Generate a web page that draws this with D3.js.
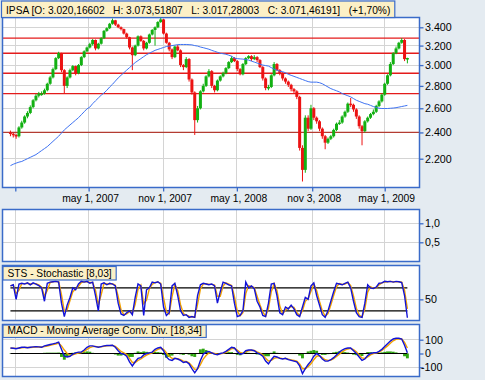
<!DOCTYPE html>
<html><head><meta charset="utf-8">
<script src="https://cdn.jsdelivr.net/npm/d3@7"></script>
<style>html,body{margin:0;padding:0;background:#e4ebf1;} svg{display:block;font-family:"Liberation Sans",Arial,sans-serif;}</style>
</head><body><svg id="c" width="485" height="380"></svg>
<script>
// ---------- data (weekly) ----------
const firstWeek = "2006-10-20";
const firstOpen = 2400;
const closes = [2390,2380,2370,2440,2480,2530,2560,2610,2670,2710,
2730,2730,2760,2820,2880,2960,3070,3120,2950,2800,
2880,2950,2990,2920,3000,3080,3140,3180,3215,3260,
3170,3220,3280,3360,3390,3440,3480,3430,3400,3380,
3330,3290,3180,3100,3200,3300,3250,3170,3230,3320,
3370,3400,3460,3490,3330,3230,3160,3080,3190,3150,
3000,2980,3060,2860,2740,2500,2600,2750,2800,2890,
2940,2800,2760,2850,2890,2920,2970,3030,3070,3040,
2960,2910,3010,3070,3090,3060,3080,3050,2980,2870,
2780,2790,2900,3010,2950,2920,2870,2840,2810,2770,
2750,2700,2280,2120,2520,2430,2600,2520,2490,2430,
2370,2320,2350,2370,2420,2470,2480,2530,2570,2640,
2630,2590,2530,2450,2410,2490,2520,2550,2570,2620,
2660,2720,2820,2900,3010,3120,3170,3230,3260,3060,
3071];
const highs = [2415,2400,2390,2450,2495,2540,2575,2625,2680,2725,
2745,2750,2775,2830,2895,2975,3080,3135,3125,2960,
2890,2965,3000,2995,3010,3090,3150,3190,3230,3270,
3265,3230,3290,3370,3400,3450,3500,3485,3440,3410,
3385,3340,3295,3190,3210,3310,3310,3260,3240,3330,
3380,3410,3470,3510,3495,3340,3240,3170,3200,3210,
3160,3010,3080,3070,2870,2750,2620,2760,2820,2900,
2960,2950,2810,2860,2900,2935,2980,3040,3090,3080,
3050,2970,3020,3080,3100,3100,3100,3090,3060,2990,
2880,2810,2910,3030,3020,2960,2930,2880,2850,2820,
2780,2760,2710,2300,2540,2540,2630,2610,2530,2500,
2440,2380,2360,2380,2430,2480,2500,2540,2580,2650,
2690,2640,2600,2540,2460,2500,2530,2560,2590,2630,
2670,2730,2830,2910,3030,3130,3190,3240,3280,3270,
3074];
const lows = [2370,2360,2350,2360,2430,2470,2515,2550,2600,2660,
2695,2710,2720,2750,2810,2870,2950,3060,2930,2730,
2780,2870,2940,2900,2910,2990,3070,3130,3170,3200,
3150,3160,3210,3270,3350,3380,3430,3415,3390,3365,
3320,3275,3160,2950,3090,3190,3240,3150,3160,3220,
3310,3200,3390,3450,3320,3220,3140,3060,3070,3140,
2980,2950,2970,2840,2720,2380,2480,2590,2740,2790,
2880,2780,2740,2750,2840,2880,2910,2960,3020,3030,
2940,2900,2900,3000,3060,3040,3050,3030,2970,2850,
2760,2760,2780,2890,2940,2900,2850,2820,2790,2750,
2730,2680,2260,2040,2100,2410,2420,2500,2470,2410,
2350,2270,2310,2340,2360,2410,2460,2470,2520,2560,
2610,2570,2510,2430,2300,2400,2480,2510,2540,2560,
2610,2650,2710,2810,2890,3000,3110,3160,3220,3040,
3017];
const movingAvg = [2150,2160,2168,2175,2180,2190,2200,2210,2220,2230,
2245,2260,2275,2290,2310,2330,2350,2370,2395,2420,
2440,2460,2480,2500,2520,2545,2570,2595,2610,2640,
2665,2690,2715,2735,2760,2790,2815,2845,2875,2900,
2925,2950,2975,3000,3025,3045,3065,3085,3105,3120,
3135,3150,3160,3170,3180,3190,3195,3200,3205,3210,
3212,3212,3212,3210,3208,3200,3195,3185,3178,3170,
3162,3150,3140,3130,3120,3115,3110,3100,3090,3070,
3065,3062,3060,3055,3050,3040,3030,3020,3010,3000,
2995,2990,2975,2960,2950,2940,2935,2925,2910,2900,
2890,2880,2870,2860,2850,2840,2835,2835,2835,2830,
2820,2805,2790,2775,2765,2755,2745,2730,2720,2710,
2700,2685,2670,2660,2650,2640,2635,2625,2615,2608,
2600,2598,2598,2598,2600,2602,2605,2610,2615,2620,
2625];
const levels = [3280, 3120, 2920, 2730, 2400];
const levelColors = ["#e41b1b","#e41b1b","#e41b1b","#e41b1b","#b43c32"];

const stochK = [85,88,50,90,92,90,93,88,93,90,
86,80,45,92,95,96,97,95,40,5,
35,55,80,75,90,97,95,97,92,95,
60,20,90,93,88,92,90,85,40,12,
8,15,20,10,55,90,85,8,75,80,
95,93,96,90,30,8,15,85,92,60,
20,8,10,3,5,3,60,88,92,90,
88,90,85,40,70,95,92,88,85,40,
5,8,20,95,80,85,78,45,30,8,
5,40,90,92,60,15,10,30,25,35,
25,10,5,30,55,50,85,93,60,35,
10,3,20,45,70,92,90,88,92,95,
80,45,15,5,3,40,88,80,78,82,
92,93,97,96,97,95,97,96,94,60,
2];
const stochD = [85,87,65,74,91,91,92,90,91,91,
88,82,59,73,94,96,97,96,62,19,
23,47,70,77,84,94,96,96,94,94,
74,36,62,92,90,90,91,87,58,23,
10,12,18,14,37,76,87,39,48,78,
89,94,95,92,54,17,12,57,89,73,
36,13,9,6,4,4,37,77,90,91,
89,89,87,58,58,85,93,90,86,58,
19,7,15,65,86,83,81,58,36,17,
6,26,70,91,73,33,12,22,27,31,
29,16,7,20,45,52,71,90,73,45,
20,6,13,35,60,83,91,89,90,94,
86,59,27,9,4,25,69,83,79,80,
88,93,95,96,97,96,96,96,95,74,
25];
const stochLevels = [80, 20];

const macd = [40,38,35,40,45,45,42,45,48,50,
48,45,55,60,65,70,75,82,30,-20,
-25,-20,-5,5,10,10,25,45,55,55,
50,45,50,55,58,58,60,45,20,0,
-5,-20,-60,-90,-60,-35,-30,-10,0,5,
10,30,40,45,20,-25,-45,-50,-35,-40,
-50,-65,-60,-75,-110,-140,-110,-50,-5,10,
15,5,-5,-10,0,5,15,30,45,40,
15,-5,0,20,25,25,20,5,-5,-20,
-55,-75,-45,-20,-25,-35,-40,-35,-45,-50,
-55,-60,-90,-145,-110,-80,-55,-20,0,-15,
-40,-55,-55,-45,-30,-10,10,25,35,40,
40,20,0,-25,-50,-40,-15,0,5,5,
15,30,50,70,90,105,110,110,105,60,
5];
const macdSignal = [38,38,37,38,41,43,43,44,45,47,
48,47,50,54,59,64,69,75,55,25,
0,-12,-10,-3,3,7,15,30,42,50,
51,48,49,52,55,57,58,52,35,15,
5,-8,-35,-65,-65,-50,-40,-25,-12,-3,
5,18,30,38,30,5,-20,-35,-35,-38,
-44,-55,-58,-67,-90,-115,-112,-80,-40,-15,
3,5,0,-5,-3,2,8,20,35,38,
25,8,3,12,20,23,22,12,3,-10,
-35,-55,-50,-35,-30,-33,-37,-36,-41,-46,
-51,-56,-75,-110,-110,-95,-75,-45,-20,-17,
-30,-45,-50,-48,-38,-22,-5,12,25,33,
37,28,12,-10,-32,-36,-25,-10,0,3,
10,22,38,55,75,92,102,106,105,80,
40];
const macdHist = [2,0,-2,2,4,2,-1,1,3,3,
0,-2,5,6,6,6,6,7,-25,-45,
-25,-8,5,8,7,3,10,15,13,5,
-1,-3,1,3,3,1,2,-7,-15,-15,
-10,-12,-25,-25,5,15,10,15,12,8,
5,12,10,7,-10,-30,-25,-15,0,-2,
-6,-10,-2,-8,-20,-25,2,30,35,25,
12,0,-5,-5,3,3,7,10,10,2,
-10,-13,-3,8,5,2,-2,-7,-8,-10,
-20,-20,5,15,5,-2,-3,1,-4,-4,
-4,-4,-15,-35,0,15,20,25,20,2,
-10,-10,-5,3,8,12,15,13,10,7,
3,-8,-12,-15,-18,-4,10,10,5,2,
5,8,12,15,15,13,8,4,0,-20,
-35];

const tickDates = ["2006-11-01","2007-05-01","2007-11-01","2008-05-01","2008-11-03","2009-05-01"];
const tickLabels = ["","may 1, 2007","nov 1, 2007","may 1, 2008","nov 3, 2008","may 1, 2009"];
const priceTicks = [2200,2400,2600,2800,3000,3200,3400];
const p2Ticks = [0.5,1.0];
const stochTicks = [50];
const macdTicks = [-100,0,100];
const titleText = "IPSA [O: 3.020,16602   H: 3.073,51807   L: 3.017,28003   C: 3.071,46191]   (+1,70%)";
const stsLabel = "STS - Stochastic [8,03]";
const macdLabel = "MACD - Moving Average Conv. Div. [18,34]";

// ---------- drawing ----------
const parse = d3.timeParse("%Y-%m-%d");
const start = parse(firstWeek);
const n = closes.length;
const dates = d3.range(n).map(i => d3.timeDay.offset(start, 7 * i));
const ticks = tickDates.map(parse);

const loc = d3.formatLocale({decimal: ",", thousands: ".", grouping: [3], currency: ["$", ""], minus: "-"});
const fmtPrice = loc.format(",.0f");
const fmt1 = loc.format(".1f");
const fmt0 = loc.format("d");

const BLUE = "#3a6bc9", GRID = "#d4d4d4";
const svg = d3.select("#c");
svg.append("rect").attr("width", 485).attr("height", 380).attr("fill", "#e4ebf1");

const L = 2.5, R = 419.5;
const x = d3.scaleTime().domain([parse("2006-11-01"), parse("2009-05-01")]).range([15.3, 384.7]);

function panel(id, top, bottom) {
  const g = svg.append("g");
  g.append("rect").attr("x", L).attr("y", top).attr("width", R - L).attr("height", bottom - top).attr("fill", "#fff");
  svg.append("clipPath").attr("id", id).append("rect").attr("x", L).attr("y", top).attr("width", R - L).attr("height", bottom - top);
  const grid = g.append("g").attr("shape-rendering", "crispEdges");
  grid.selectAll("line.v").data(ticks).join("line").attr("class", "v")
    .attr("x1", d => x(d)).attr("x2", d => x(d)).attr("y1", top).attr("y2", bottom)
    .attr("stroke", GRID).attr("stroke-width", 1);
  const content = g.append("g").attr("clip-path", `url(#${id})`);
  return {g, grid, content, top, bottom};
}
function border(p) {
  p.g.append("rect").attr("x", L).attr("y", p.top).attr("width", R - L).attr("height", p.bottom - p.top)
    .attr("fill", "none").attr("stroke", BLUE).attr("stroke-width", 1.5);
}
function hgrid(p, scale, vals) {
  p.grid.selectAll("line.h").data(vals).join("line").attr("class", "h")
    .attr("x1", L).attr("x2", R).attr("y1", d => scale(d)).attr("y2", d => scale(d))
    .attr("stroke", GRID).attr("stroke-width", 1);
}
function rightAxis(scale, vals, fmt) {
  const a = svg.append("g").attr("transform", `translate(${R},0)`)
    .call(d3.axisRight(scale).tickValues(vals).tickFormat(fmt).tickSize(4).tickPadding(1.5));
  a.select(".domain").remove();
  a.selectAll(".tick line").attr("stroke", BLUE).attr("stroke-width", 1.3);
  a.selectAll(".tick text").attr("fill", "#000").attr("font-size", "10.7px").attr("font-family", "Liberation Sans, Arial, sans-serif")
    .attr("x", d => d < 0 ? 1.5 : 5.5);
  return a;
}
function labelBox(text, x0, y0, h) {
  const g = svg.append("g");
  const r = g.append("rect").attr("x", x0).attr("y", y0).attr("height", h)
    .attr("fill", "#fcf0c6").attr("stroke", BLUE).attr("stroke-width", 1.2);
  const t = g.append("text").attr("x", x0 + 4.5).attr("y", y0 + h - 3.2).attr("font-size", "10.2px")
    .attr("fill", "#000").style("white-space", "pre").text(text);
  r.attr("width", t.node().getComputedTextLength() + 9);
}

// ----- main price panel -----
const y = d3.scaleLog().domain([2200, 3400]).range([158.7, 27.3]);
const pm = panel("cm", 17.5, 187.5);
hgrid(pm, y, priceTicks);
pm.content.selectAll("line.lvl").data(levels).join("line").attr("class", "lvl")
  .attr("x1", L).attr("x2", R).attr("y1", d => y(d)).attr("y2", d => y(d))
  .attr("stroke", (d, i) => levelColors[i]).attr("stroke-width", 1.3);
const candles = d3.range(n).map(i => ({d: dates[i], o: i ? closes[i - 1] : firstOpen, c: closes[i], h: highs[i], l: lows[i]}));
const col = c => c.c >= c.o ? "#12b012" : "#ec1313";
pm.content.selectAll("line.wick").data(candles).join("line").attr("class", "wick")
  .attr("x1", c => x(c.d)).attr("x2", c => x(c.d)).attr("y1", c => y(c.h)).attr("y2", c => y(c.l))
  .attr("stroke", col).attr("stroke-width", 1);
pm.content.selectAll("rect.body").data(candles).join("rect").attr("class", "body")
  .attr("x", c => x(c.d) - 1.5).attr("width", 3)
  .attr("y", c => y(Math.max(c.o, c.c))).attr("height", c => Math.max(1.5, Math.abs(y(c.o) - y(c.c))))
  .attr("fill", col);
pm.content.append("path").datum(movingAvg).attr("fill", "none").attr("stroke", "#3f73f2").attr("stroke-width", 1)
  .attr("d", d3.line().x((v, i) => x(dates[i])).y(v => y(v)));
border(pm);
rightAxis(y, priceTicks, fmtPrice);
const xa = svg.append("g").attr("transform", `translate(0,187.5)`)
  .call(d3.axisBottom(x).tickValues(ticks).tickFormat((d, i) => tickLabels[i]).tickSize(4).tickPadding(3));
xa.select(".domain").remove();
xa.selectAll(".tick line").attr("stroke", BLUE).attr("stroke-width", 1.3);
xa.selectAll(".tick text").attr("fill", "#000").attr("font-size", "10.3px").attr("dx", 1.5)
  .attr("font-family", "Liberation Sans, Arial, sans-serif");
labelBox(titleText, 1.5, 1, 16.5);

// ----- empty panel -----
const y2 = d3.scaleLinear().domain([0, 1.368]).range([261.3, 209.3]);
const p2 = panel("c2", 209.5, 261.5);
hgrid(p2, y2, p2Ticks);
border(p2);
rightAxis(y2, p2Ticks, fmt1);

// ----- stochastic panel -----
const ys = d3.scaleLinear().domain([0, 100]).range([318.5, 280.2]);
const ps = panel("cs", 265.5, 320.5);
hgrid(ps, ys, stochTicks);
ps.content.selectAll("line.sl").data(stochLevels).join("line").attr("class", "sl")
  .attr("x1", x(dates[0])).attr("x2", x(dates[n - 1])).attr("y1", d => ys(d)).attr("y2", d => ys(d))
  .attr("stroke", "#000").attr("stroke-width", 1.2);
const lineS = d3.line().x((v, i) => x(dates[i])).y(v => ys(v));
ps.content.append("path").datum(stochD).attr("fill", "none").attr("stroke", "#f2a200").attr("stroke-width", 1.4).attr("d", lineS);
ps.content.append("path").datum(stochK).attr("fill", "none").attr("stroke", "#1212d6").attr("stroke-width", 1.4).attr("d", lineS);
border(ps);
rightAxis(ys, stochTicks, fmt0);
labelBox(stsLabel, 3, 266.5, 13.5);

// ----- MACD panel -----
const ym = d3.scaleLinear().domain([-100, 100]).range([367.3, 339.7]);
const pc = panel("cc", 324.5, 376.5);
hgrid(pc, ym, [-100, 100]);
pc.content.selectAll("rect.hist").data(macdHist).join("rect").attr("class", "hist")
  .attr("x", (v, i) => x(dates[i]) - 1.45).attr("width", 2.9)
  .attr("y", v => ym(Math.max(0, v))).attr("height", v => Math.abs(ym(v) - ym(0)))
  .attr("fill", "#2fa512");
pc.content.append("line").attr("x1", x(dates[0])).attr("x2", x(dates[n - 1])).attr("y1", ym(0)).attr("y2", ym(0))
  .attr("stroke", "#000").attr("stroke-width", 1.2);
const lineM = d3.line().x((v, i) => x(dates[i])).y(v => ym(v));
pc.content.append("path").datum(macdSignal).attr("fill", "none").attr("stroke", "#f2a200").attr("stroke-width", 1.4).attr("d", lineM);
pc.content.append("path").datum(macd).attr("fill", "none").attr("stroke", "#1212d6").attr("stroke-width", 1.4).attr("d", lineM);
border(pc);
rightAxis(ym, macdTicks, fmt0);
labelBox(macdLabel, 3, 325, 12.5);
</script></body></html>
